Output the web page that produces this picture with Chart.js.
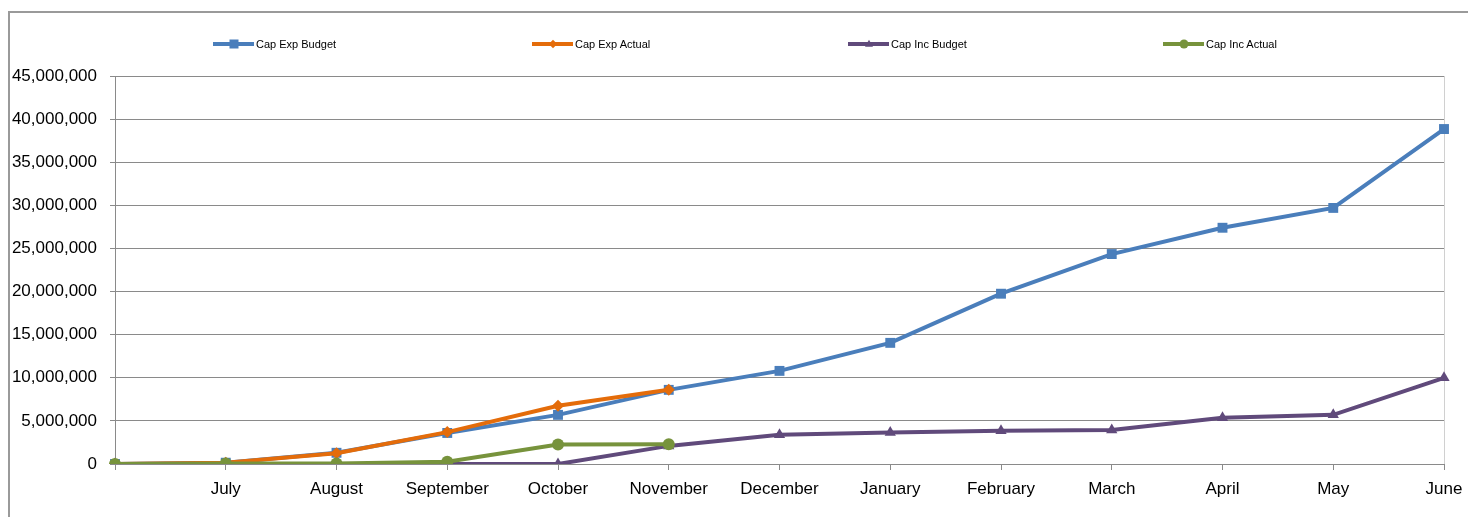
<!DOCTYPE html>
<html lang="en">
<head>
    <meta charset="UTF-8">
    <title>Cap Exp / Cap Inc</title>
    <script src="https://cdn.jsdelivr.net/npm/chart.js"></script>
    <style>
        body { margin: 0; background: #fff; font-family: 'Liberation Sans', Arial, sans-serif; }
        .wrap { position: relative; width: 1468px; height: 517px; overflow: hidden; }
        .frame { position: absolute; left: 8px; top: 11px; width: 1520px; height: 600px; border: 2px solid #9a9a9a; box-sizing: border-box; }
        canvas { position: absolute; left: 0; top: 0; }
        .legend-item { position: absolute; top: 36px; height: 16px; display: flex; align-items: center; font-size: 11px; color: #000; white-space: nowrap; }
        .legend-line { position: relative; width: 41px; height: 4px; margin-right: 2px; }
        .legend-mark { position: absolute; left: 50%; top: 50%; transform: translate(-50%, -50%); }
    </style>
</head>
<body>
<div class="wrap">
    <div class="frame"></div>
    <canvas id="capChart" width="1468" height="517"></canvas>
    <div id="legend"></div>
</div>

<script>
    // categories (first slot is the opening balance, no label)
    const months = ['', 'July', 'August', 'September', 'October', 'November', 'December',
        'January', 'February', 'March', 'April', 'May', 'June'];

    // series values
    const capExpBudget = [0, 150000, 1300000, 3600000, 5700000, 8600000, 10800000,
        14050000, 19750000, 24350000, 27400000, 29700000, 38850000];
    const capExpActual = [0, 150000, 1250000, 3700000, 6750000, 8600000, null,
        null, null, null, null, null, null];
    const capIncBudget = [0, 0, 0, 0, 0, 2100000, 3400000,
        3650000, 3850000, 3950000, 5350000, 5700000, 10000000];
    const capIncActual = [0, 50000, 50000, 250000, 2250000, 2300000, null,
        null, null, null, null, null, null];

    // y axis
    const yMin = 0;
    const yMax = 45000000;
    const yStep = 5000000;

    const seriesNames = ['Cap Exp Budget', 'Cap Exp Actual', 'Cap Inc Budget', 'Cap Inc Actual'];

    const gridGray = '#8a8a8a';
    const fontFamily = "'Liberation Sans', Arial, sans-serif";

    const mk = (label, data, color, pointStyle, radius, order) => ({
        label, data,
        borderColor: color, backgroundColor: color,
        pointBackgroundColor: color, pointBorderColor: color,
        borderWidth: 4, pointStyle, pointRadius: radius, pointBorderWidth: 0,
        tension: 0, fill: false, spanGaps: false, order
    });

    const datasets = [
        mk(seriesNames[0], capExpBudget, '#4a7ebb', 'rect', 7, 4),
        mk(seriesNames[1], capExpActual, '#e46c0a', 'rectRot', 6, 3),
        mk(seriesNames[2], capIncBudget, '#604a7b', 'triangle', 6.5, 2),
        mk(seriesNames[3], capIncActual, '#77933c', 'circle', 6, 1)
    ];

    const lastIdx = months.length - 1;

    new Chart(document.getElementById('capChart'), {
        type: 'line',
        data: { labels: months, datasets },
        options: {
            responsive: false,
            animation: false,
            layout: { padding: { top: 76, right: 24, left: 0, bottom: 0 } },
            plugins: { legend: { display: false }, tooltip: { enabled: false } },
            scales: {
                x: {
                    offset: false,
                    afterFit: (s) => { s.height = 53; s.paddingRight = 0; },
                    grid: {
                        drawOnChartArea: true,
                        color: (c) => c.index === lastIdx ? '#d0d0d0' : 'rgba(0,0,0,0)',
                        tickColor: gridGray,
                        tickLength: 6
                    },
                    border: { color: gridGray, width: 1 },
                    ticks: {
                        autoSkip: false, maxRotation: 0, padding: 9,
                        color: '#000', font: { family: fontFamily, size: 17 }
                    }
                },
                y: {
                    min: yMin, max: yMax,
                    afterFit: (s) => { s.width = 115; },
                    grid: { color: gridGray, tickLength: 5, tickColor: gridGray },
                    border: { color: gridGray, width: 1 },
                    ticks: {
                        stepSize: yStep, padding: 13,
                        color: '#000', font: { family: fontFamily, size: 17 },
                        callback: (v) => v.toLocaleString('en-US')
                    }
                }
            }
        }
    });

    // legend spread out like the spreadsheet one
    const legendLeft = [213, 532, 848, 1163];
    const markCss = {
        rect: (c) => `width:9px;height:9px;background:${c};`,
        rectRot: (c) => `width:6px;height:6px;background:${c};transform:translate(-50%,-50%) rotate(45deg);`,
        triangle: (c) => `width:0;height:0;border-left:4px solid transparent;border-right:4px solid transparent;border-bottom:7px solid ${c};transform:translate(-50%,-60%);`,
        circle: (c) => `width:9px;height:9px;border-radius:50%;background:${c};`
    };
    const legendEl = document.getElementById('legend');
    datasets.forEach((d, i) => {
        const item = document.createElement('div');
        item.className = 'legend-item';
        item.style.left = legendLeft[i] + 'px';
        item.innerHTML = `<span class="legend-line" style="background:${d.borderColor}">` +
            `<span class="legend-mark" style="${markCss[d.pointStyle](d.borderColor)}"></span></span>` +
            `<span>${d.label}</span>`;
        legendEl.appendChild(item);
    });
</script>
</body>
</html>
